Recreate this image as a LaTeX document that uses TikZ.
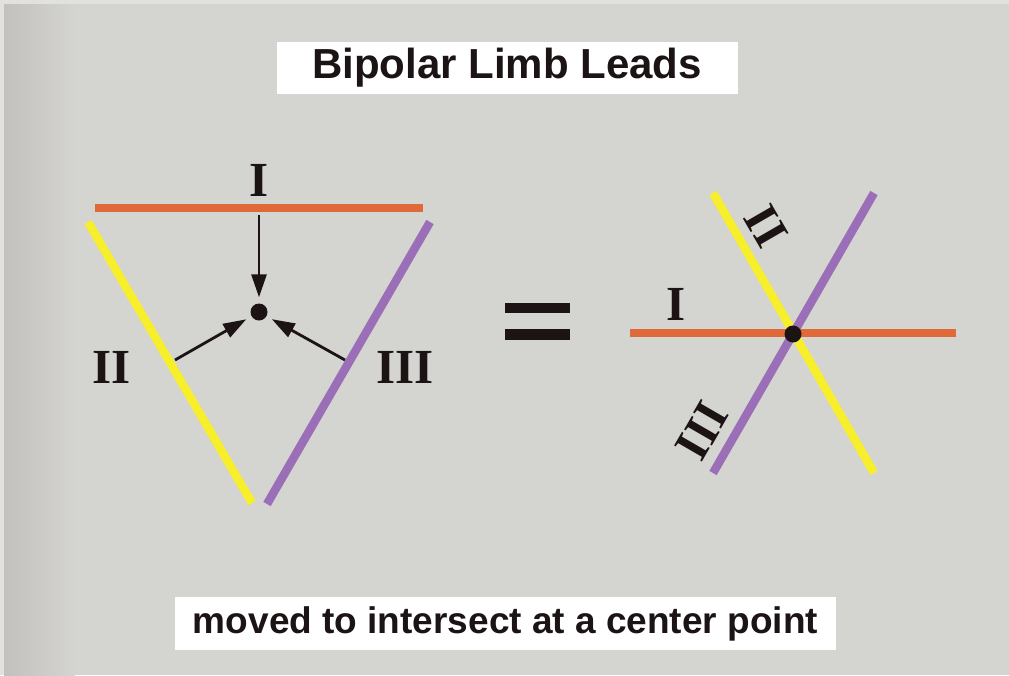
\documentclass[tikz,border=0pt]{standalone}
\usepackage{fontspec}
\setmainfont{Liberation Serif}
\newfontfamily\titlefont{Liberation Sans}
\usetikzlibrary{arrows.meta}
\definecolor{bg}{HTML}{D4D4D1}
\definecolor{bgdark}{HTML}{C3C1BD}
\definecolor{leadI}{HTML}{E0693A}
\definecolor{leadII}{HTML}{F7EE2C}
\definecolor{leadIII}{HTML}{9B6FB8}
\definecolor{ink}{HTML}{1C1414}
\tikzset{
  lead/.style={line width=8.5pt},
  numeral/.style={font=\fontsize{49}{49}\selectfont\bfseries, text=ink, inner sep=0pt},
  dotnode/.style={circle, fill=ink, minimum size=17pt, inner sep=0pt},
  arr/.style={ink, line width=2.8pt, -{Triangle[length=23pt,width=15pt]}, shorten >=6pt},
  labelbox/.style={fill=white, inner sep=0pt, text=ink}
}
\begin{document}
\begin{tikzpicture}[x=1pt,y=-1pt]
\useasboundingbox (0,0) rectangle (1009,675);
% background
\fill[bg!70!white] (0,0) rectangle (1009,675);
\fill[bg] (4,4) rectangle (1009,675);
\shade[left color=bgdark, right color=bg] (4,4) rectangle (75,675);
% title
\node[labelbox, minimum width=461pt, minimum height=52pt] (title) at (507,68) {};
\node[text=ink, font=\titlefont\fontsize{42}{42}\selectfont\bfseries] at (title) {Bipolar Limb Leads};
% caption
\node[labelbox, minimum width=661pt, minimum height=53pt] (caption) at (505.5,623.5) {};
\node[text=ink, font=\titlefont\fontsize{37}{37}\selectfont\bfseries] at (caption) {moved to intersect at a center point};
% left triangle
\coordinate (IL) at (95,208);
\coordinate (IR) at (423,208);
\coordinate (IIa) at (88,222);
\coordinate (IIb) at (252,503);
\coordinate (IIIa) at (430,222);
\coordinate (IIIb) at (267,504);
\draw[lead, leadI] (IL) -- (IR);
\draw[lead, leadII] (IIa) -- (IIb);
\draw[lead, leadIII] (IIIa) -- (IIIb);
\node[dotnode] (c) at (259,312) {};
\coordinate (fromI) at (259,215);
\coordinate (fromII) at (175,360);
\coordinate (fromIII) at (345,360);
\draw[arr] (fromI) -- (c);
\draw[arr] (fromII) -- (c);
\draw[arr] (fromIII) -- (c);
\node[numeral] (lI) at (259,180) {I};
\node[numeral] (lII) at (112,367) {II};
\node[numeral] (lIII) at (405,367) {III};
% equals sign
\fill[ink] (505,303) rectangle (570,313);
\fill[ink] (505,329) rectangle (570,340);
% right: leads crossing
\coordinate (rIL) at (630,333);
\coordinate (rIR) at (956,333);
\coordinate (rIIa) at (713,193);
\coordinate (rIIb) at (874,473);
\coordinate (rIIIa) at (874,193);
\coordinate (rIIIb) at (713,473);
\draw[lead, leadII] (rIIa) -- (rIIb);
\draw[lead, leadIII] (rIIIa) -- (rIIIb);
\draw[lead, leadI] (rIL) -- (rIR);
\node[dotnode] (rc) at (793,334) {};
\node[numeral] (rlI) at (676,304) {I};
\node[numeral, rotate=-60] (rlII) at (766,226) {II};
\node[numeral, rotate=60] (rlIII) at (702,431) {III};
\end{tikzpicture}
\end{document}
